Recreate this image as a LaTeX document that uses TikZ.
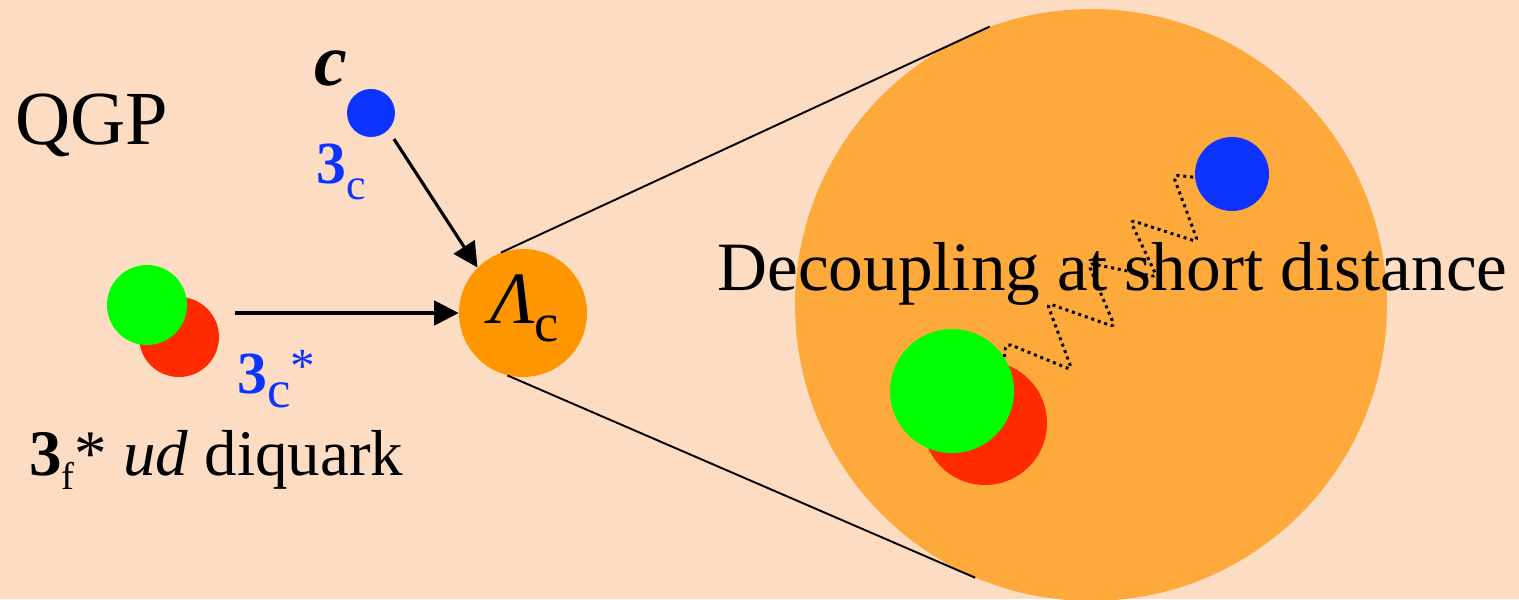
\documentclass[tikz,border=0pt]{standalone}
\usepackage{fontspec}
\setmainfont{Liberation Serif}
\usetikzlibrary{arrows.meta,calc,positioning}
\definecolor{qgpbg}{HTML}{FCDCC3}
\definecolor{zoomorange}{HTML}{FDA93B}
\definecolor{lamorange}{HTML}{FF9600}
\definecolor{qblue}{HTML}{0D33FF}
\definecolor{qgreen}{HTML}{00FF00}
\definecolor{qred}{HTML}{FF2A00}

\begin{document}
\begin{tikzpicture}[x=0.02cm,y=-0.02cm,
    ball/.style={circle,inner sep=0pt,minimum size=#1},
    txt/.style={anchor=base west,inner sep=0pt},
    flow/.style={-{Triangle[length=14pt,width=14pt]},line width=1.8pt},
    cone/.style={line width=1.1pt}]
      % Background
      \fill[qgpbg] (0,0) rectangle (1519,599);
      \useasboundingbox (0,0) rectangle (1519,599);
      % Zoomed view and Lambda_c
      \node[ball=11.84cm,fill=zoomorange] (zoom) at (1091,305) {};
      \node[ball=2.56cm,fill=lamorange] (lam) at (523,313) {};
      \draw[cone] (lam.110) -- (zoom.110);
      \draw[cone] (lam.-104) -- (zoom.-113);
      \node[txt,font=\fontsize{42}{42}\selectfont] (lamlab) at (490,323) {\textit{Λ}\raisebox{-10.5pt}{\fontsize{31}{31}\selectfont c}};
      % QGP side
      \node[txt,font=\fontsize{43.5}{43.5}\selectfont] (qgp) at (15,144) {QGP};
      \node[ball=0.96cm,fill=qblue] (cq) at (371,113) {};
      \node[txt,font=\fontsize{42}{42}\selectfont\bfseries\itshape] (clab) at (314,85) {c};
      \node[txt,text=qblue,font=\fontsize{34}{34}\selectfont] (cthree) at (316,183) {\textbf{3}\raisebox{-9.5pt}{\fontsize{25}{25}\selectfont c}};
      \node[ball=1.6cm,fill=qred] (dqr) at (179,337) {};
      \node[ball=1.6cm,fill=qgreen] (dqg) at (147,305) {};
      \node[txt,text=qblue,font=\fontsize{34}{34}\selectfont] (dqthree) at (237,393) {\textbf{3}\raisebox{-8pt}{\fontsize{30}{30}\selectfont c}\raisebox{6pt}{\fontsize{28}{28}\selectfont *}};
      \node[txt,font=\fontsize{37}{37}\selectfont] (dqlab) at (29,475) {\textbf{3}\raisebox{-8.5pt}{\fontsize{22}{22}\selectfont f}* \textit{ud} diquark};
      % Arrows
      \coordinate (dqout) at (235,313);
      \draw[flow] (dqout) -- (lam.west);
      \draw[flow,shorten <=6pt] (cq.-45) -- (lam.135);
      % Inside the zoom
      \node[txt,font=\fontsize{39.4}{39.4}\selectfont] (declab) at (717,290) {Decoupling at short distance};
      \node[ball=2.48cm,fill=qred] (bigr) at (985,423) {};
      \node[ball=2.48cm,fill=qgreen] (bigg) at (952,391) {};
      \node[ball=1.48cm,fill=qblue] (bigb) at (1232,174) {};
      \draw[line width=1.7pt,dash pattern=on 1.7pt off 2.2pt,rounded corners=3pt] (bigg.33) -- (1006,343) -- (1072,370) -- (1047,303) -- (1115,327) -- (1088,263) -- (1157,277) -- (1130,220) -- (1198,242) -- (1173,175) -- (bigb.185);
\end{tikzpicture}
\end{document}
